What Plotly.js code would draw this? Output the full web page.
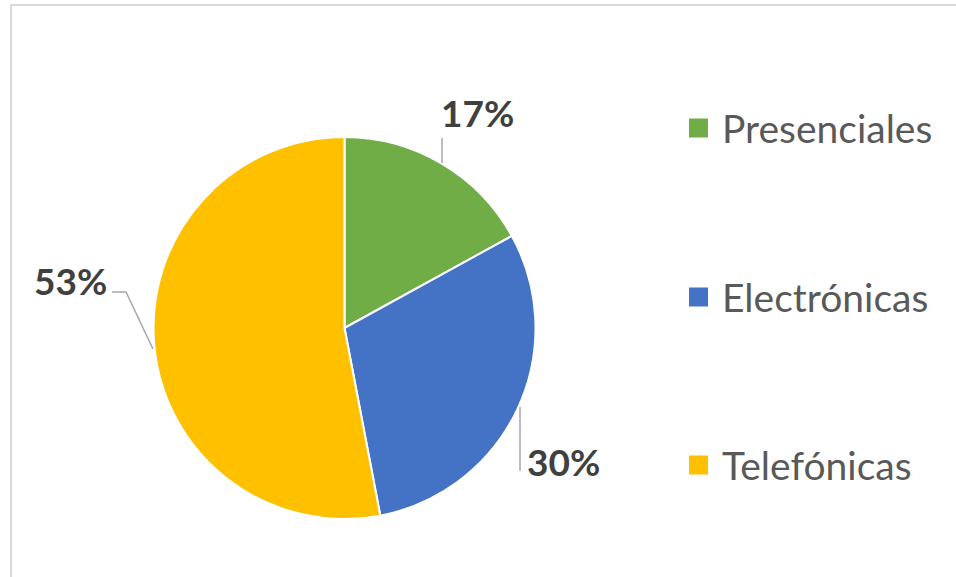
<!DOCTYPE html>
<html>
<head>
<meta charset="utf-8">
<script src="https://cdn.plot.ly/plotly-3.0.1.min.js"></script>
<style>html,body{margin:0;padding:0;background:#fff;}#chart{width:956px;height:577px;}</style>
</head>
<body>
<div id="chart"></div>
<script>
// Data
const categories = ["Presenciales", "Electrónicas", "Telefónicas"];
const values = [17, 30, 53];
const colors = ["#70AD47", "#4472C4", "#FFC000"];

// Layout helpers (pixel -> paper)
const W = 956, H = 577;
const px = x => x / W;
const py = y => 1 - y / H;

// Pie geometry
const cx = 344.5, cy = 328, r = 191;

// Label placement (pixel positions) and leader lines
const labelPos = [
  {x: 477, y: 112},
  {x: 563, y: 461},
  {x: 70, y: 280}
];
const leaders = [
  [[442, 138], [442, 163]],
  [[520, 407], [520, 471]],
  [[112, 292], [126, 292], [153, 349]]
];
// Legend placement
const legendX = 689, legendY = [128, 297, 465], sq = 19;

const total = values.reduce((a, b) => a + b, 0);

const annotations = [];
const shapes = [];

values.forEach((v, i) => {
  annotations.push({
    xref: 'paper', yref: 'paper',
    x: px(labelPos[i].x), y: py(labelPos[i].y),
    xanchor: 'center', yanchor: 'middle',
    text: '<b>' + Math.round(v / total * 100) + '%</b>',
    showarrow: false,
    font: {family: 'Lato, "Open Sans", sans-serif', size: 37, color: '#404040'}
  });
  const pts = leaders[i];
  let path = 'M ' + px(pts[0][0]) + ',' + py(pts[0][1]);
  for (let k = 1; k < pts.length; k++) path += ' L ' + px(pts[k][0]) + ',' + py(pts[k][1]);
  shapes.push({type: 'path', xref: 'paper', yref: 'paper', path: path,
    line: {color: '#A6A6A6', width: 1.5}});
});

categories.forEach((c, i) => {
  shapes.push({type: 'rect', xref: 'paper', yref: 'paper',
    x0: px(legendX), x1: px(legendX + sq),
    y0: py(legendY[i] + sq / 2), y1: py(legendY[i] - sq / 2),
    fillcolor: colors[i], line: {width: 0}});
  annotations.push({
    xref: 'paper', yref: 'paper',
    x: px(legendX + sq + 12), y: py(legendY[i]),
    xanchor: 'left', yanchor: 'middle',
    text: c, showarrow: false,
    font: {family: 'Lato, "Open Sans", sans-serif', size: 39, color: '#595959'}
  });
});

// Frame
shapes.push({type: 'rect', xref: 'paper', yref: 'paper',
  x0: px(11), x1: px(W + 20), y0: py(H + 20), y1: py(5),
  line: {color: '#D9D9D9', width: 2}, fillcolor: 'rgba(0,0,0,0)', layer: 'below'});

const trace = {
  type: 'pie',
  labels: categories,
  values: values,
  sort: false,
  direction: 'clockwise',
  rotation: 0,
  textinfo: 'none',
  hoverinfo: 'label+percent',
  marker: {colors: colors, line: {color: '#FFFFFF', width: 2}},
  domain: {x: [px(cx - r), px(cx + r)], y: [py(cy + r), py(cy - r)]},
  showlegend: false
};

const layout = {
  width: W, height: H,
  margin: {l: 0, r: 0, t: 0, b: 0},
  paper_bgcolor: '#FFFFFF',
  showlegend: false,
  annotations: annotations,
  shapes: shapes
};

Plotly.newPlot('chart', [trace], layout, {displayModeBar: false, staticPlot: true});
</script>
</body>
</html>
